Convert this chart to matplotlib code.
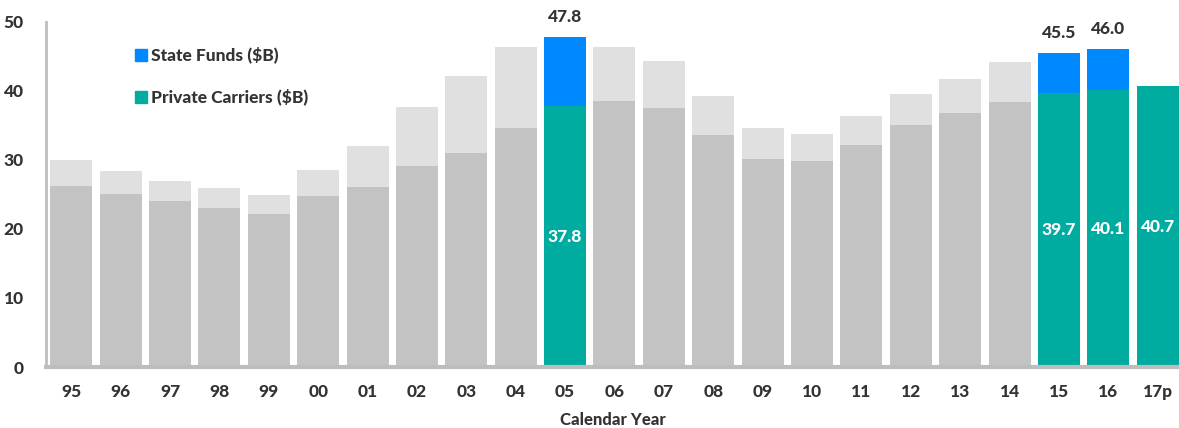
import matplotlib
matplotlib.use("Agg")
import matplotlib.pyplot as plt
from matplotlib.patches import Rectangle
import numpy as np

years = ["95", "96", "97", "98", "99", "00", "01", "02", "03", "04", "05", "06",
         "07", "08", "09", "10", "11", "12", "13", "14", "15", "16", "17p"]
private_carriers = [26.2, 25.1, 24.1, 23.1, 22.2, 24.8, 26.0, 29.1, 31.0, 34.6, 37.8, 38.5,
                    37.5, 33.6, 30.1, 29.8, 32.2, 35.0, 36.8, 38.4, 39.7, 40.1, 40.7]
state_funds = [3.8, 3.3, 2.8, 2.8, 2.7, 3.8, 6.0, 8.5, 11.2, 11.8, 10.0, 7.9,
               6.8, 5.6, 4.5, 3.9, 4.1, 4.5, 4.9, 5.8, 5.8, 5.9, 0.0]
highlight_years = ["05", "15", "16", "17p"]

plt.rcParams["font.family"] = ["Lato", "DejaVu Sans"]
WEIGHT = 900
plt.rcParams["font.weight"] = WEIGHT

TEAL = "#00AC9F"
BLUE = "#0088FF"
GRAY_DARK = "#C3C3C3"
GRAY_LIGHT = "#E0E0E0"
TEXT = "#333333"

fig = plt.figure(figsize=(11.79, 4.28), dpi=100)
ax = fig.add_axes([46 / 1179, 1 - 367 / 428, 1 - 46 / 1179, (367 - 21.8) / 428])

x = np.arange(len(years))
width = 0.85
private_colors = [TEAL if y in highlight_years else GRAY_DARK for y in years]
state_colors = [BLUE if y in highlight_years else GRAY_LIGHT for y in years]

ax.bar(x, private_carriers, width=width, color=private_colors, zorder=2)
ax.bar(x, state_funds, width=width, bottom=private_carriers, color=state_colors, zorder=2)

for i, y in enumerate(years):
    if y not in highlight_years:
        continue
    p = private_carriers[i]
    s = state_funds[i]
    ax.text(i, p / 2, f"{p:.1f}", ha="center", va="center", color="white",
            fontsize=12.5, fontweight=WEIGHT)
    if s > 0:
        ax.annotate(f"{p + s:.1f}", (i, p + s), xytext=(0, 20), textcoords="offset pixels",
                    ha="center", va="center", color=TEXT, fontsize=12.5, fontweight=WEIGHT)

ax.set_xlim(-0.51, 22.43)
ax.set_ylim(0, 50)
ax.set_xticks(x)
ax.set_xticklabels(years)
ax.set_yticks(range(0, 51, 10))
ax.tick_params(axis="both", length=0, labelsize=12.5, colors=TEXT)
ax.tick_params(axis="x", pad=12)
ax.tick_params(axis="y", pad=16)
for lbl in ax.get_xticklabels() + ax.get_yticklabels():
    lbl.set_fontweight(WEIGHT)

ax.set_xlabel("Calendar Year", fontsize=12, fontweight=WEIGHT, color=TEXT, labelpad=9)

for side in ["top", "right"]:
    ax.spines[side].set_visible(False)
ax.spines["left"].set_color("#BDBDBD")
ax.spines["left"].set_linewidth(2)
ax.spines["bottom"].set_color("#BDBDBD")
ax.spines["bottom"].set_linewidth(3)

# Legend entries
for ypix, col, label in [(55, BLUE, "State Funds ($B)"), (97, TEAL, "Private Carriers ($B)")]:
    yf = 1 - ypix / 428
    fig.patches.append(Rectangle((135 / 1179, yf - 6 / 428), 12 / 1179, 12 / 428,
                                 transform=fig.transFigure, color=col, zorder=5))
    fig.text(151 / 1179, yf, label, ha="left", va="center", fontsize=12.5,
             fontweight=WEIGHT, color=TEXT)

fig.savefig("out.png", dpi=100)
